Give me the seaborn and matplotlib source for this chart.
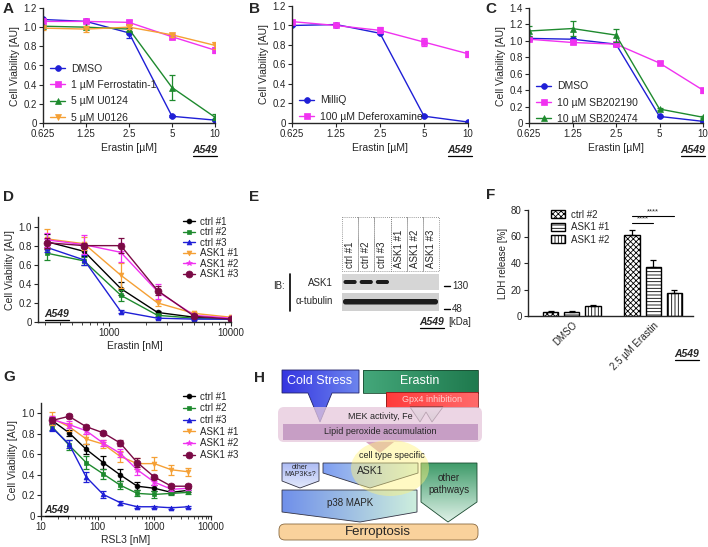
import numpy as np
import pandas as pd
import seaborn as sns
import matplotlib.pyplot as plt
from matplotlib.colors import to_rgb
from matplotlib.patches import Rectangle, Polygon, FancyBboxPatch, Ellipse, Patch
from matplotlib.ticker import NullLocator, LogLocator, NullFormatter

W, H = 708, 547

# ---- panel A / B / C : erastin dose response (uM) ----
erastin_um = [0.625, 1.25, 2.5, 5, 10]
erastin_ticks = ["0.625", "1.25", "2.5", "5", "10"]

a_names = ["DMSO", "1 µM Ferrostatin-1", "5 µM U0124", "5 µM U0126"]
a_dmso = [1.08, 1.06, 0.94, 0.07, 0.03]
a_fer1 = [1.06, 1.06, 1.05, 0.90, 0.76]
a_u0124 = [1.01, 1.00, 0.98, 0.37, 0.06]
a_u0126 = [0.99, 0.98, 1.00, 0.92, 0.81]
a_dmso_err = [0.01, 0.01, 0.05, 0.01, 0.01]
a_fer1_err = [0.02, 0.02, 0.02, 0.02, 0.03]
a_u0124_err = [0.01, 0.01, 0.02, 0.13, 0.03]
a_u0126_err = [0.02, 0.03, 0.02, 0.02, 0.04]

b_names = ["MilliQ", "100 µM Deferoxamine"]
b_milliq = [1.00, 1.01, 0.92, 0.07, 0.01]
b_dfo = [1.04, 1.00, 0.95, 0.83, 0.71]
b_milliq_err = [0.01, 0.01, 0.01, 0.01, 0.01]
b_dfo_err = [0.02, 0.01, 0.03, 0.04, 0.03]

c_names = ["DMSO", "10 µM SB202190", "10 µM SB202474"]
c_dmso = [1.03, 1.02, 0.96, 0.08, 0.02]
c_sb190 = [1.02, 0.98, 0.96, 0.73, 0.40]
c_sb474 = [1.12, 1.15, 1.07, 0.17, 0.07]
c_dmso_err = [0.02, 0.02, 0.02, 0.01, 0.01]
c_sb190_err = [0.02, 0.02, 0.02, 0.02, 0.03]
c_sb474_err = [0.06, 0.09, 0.08, 0.01, 0.01]

# ---- panel D : erastin (nM) in knockdown lines ----
kd_names = ["ctrl #1", "ctrl #2", "ctrl #3", "ASK1 #1", "ASK1 #2", "ASK1 #3"]
d_erastin_nm = [312.5, 625, 1250, 2500, 5000, 10000]
d_means = [
    [0.84, 0.74, 0.35, 0.10, 0.05, 0.03],
    [0.72, 0.64, 0.28, 0.07, 0.04, 0.03],
    [0.78, 0.65, 0.11, 0.04, 0.03, 0.03],
    [0.87, 0.82, 0.49, 0.20, 0.09, 0.05],
    [0.86, 0.81, 0.73, 0.32, 0.07, 0.04],
    [0.83, 0.80, 0.80, 0.33, 0.06, 0.03],
]
d_errs = [
    [0.08, 0.05, 0.07, 0.02, 0.01, 0.01],
    [0.07, 0.04, 0.06, 0.01, 0.01, 0.01],
    [0.05, 0.05, 0.02, 0.01, 0.01, 0.01],
    [0.10, 0.07, 0.13, 0.03, 0.01, 0.01],
    [0.07, 0.10, 0.10, 0.08, 0.01, 0.01],
    [0.05, 0.03, 0.08, 0.05, 0.01, 0.01],
]

# ---- panel F : LDH release ----
f_groups = ["DMSO", "2.5 µM Erastin"]
f_lines = ["ctrl #2", "ASK1 #1", "ASK1 #2"]
f_dmso = [3.2, 2.8, 7.2]
f_erastin = [61.5, 37.0, 17.0]
f_dmso_err = [0.7, 1.0, 1.2]
f_erastin_err = [3.2, 5.5, 2.5]

# ---- panel G : RSL3 (nM) ----
g_rsl3_nm = [15.625, 31.25, 62.5, 125, 250, 500, 1000, 2000, 4000]
g_means = [
    [0.93, 0.81, 0.65, 0.52, 0.40, 0.29, 0.27, 0.23, 0.25],
    [0.87, 0.69, 0.52, 0.41, 0.30, 0.22, 0.21, 0.22, 0.23],
    [0.86, 0.70, 0.38, 0.21, 0.13, 0.09, 0.09, 0.08, 0.09],
    [0.95, 0.87, 0.75, 0.70, 0.58, 0.51, 0.51, 0.45, 0.43],
    [0.94, 0.89, 0.83, 0.71, 0.61, 0.45, 0.33, 0.26, 0.27],
    [0.93, 0.97, 0.87, 0.81, 0.71, 0.52, 0.38, 0.29, 0.29],
]
g_errs = [
    [0.03, 0.03, 0.05, 0.06, 0.06, 0.04, 0.03, 0.02, 0.02],
    [0.03, 0.05, 0.06, 0.05, 0.04, 0.03, 0.03, 0.02, 0.02],
    [0.03, 0.04, 0.05, 0.03, 0.02, 0.01, 0.01, 0.01, 0.01],
    [0.06, 0.04, 0.05, 0.04, 0.05, 0.05, 0.06, 0.05, 0.04],
    [0.03, 0.03, 0.03, 0.03, 0.04, 0.05, 0.03, 0.02, 0.02],
    [0.02, 0.02, 0.02, 0.02, 0.03, 0.04, 0.02, 0.02, 0.02],
]

BLUE = "#1f1fd6"
MAGENTA = "#f032f0"
GREEN = "#1e8a2e"
ORANGE = "#f5a035"
kd_colors = ["#000000", GREEN, BLUE, ORANGE, MAGENTA, "#7a0a45"]
kd_markers = ["o", "s", "^", "v", "*", "o"]
kd_msize = [3.5, 3.5, 3.5, 3.5, 4.0, 5.0]

sns.set_style("ticks")
plt.rcParams["font.family"] = ["Liberation Sans", "DejaVu Sans"]
plt.rcParams["axes.linewidth"] = 1.0
plt.rcParams["hatch.linewidth"] = 0.6

fig = plt.figure(figsize=(W / 100, H / 100), dpi=100)


def px_axes(x0, y0, x1, y1):
    return fig.add_axes([x0 / W, 1 - y1 / H, (x1 - x0) / W, (y1 - y0) / H])


def curves(ax, x, names, means, errs, colors, markers, sizes, lw=1.0):
    for nm, m, e, c, mk, ms in zip(names, means, errs, colors, markers, sizes):
        sns.lineplot(x=x, y=m, color=c, marker=mk, markersize=ms, linewidth=lw,
                     markeredgecolor=c, markeredgewidth=0.5, label=nm, ax=ax)
        ax.errorbar(x, m, yerr=e, fmt="none", ecolor=c, elinewidth=0.9,
                    capsize=2.2, capthick=0.9)


def style_axes(ax, fs=7):
    sns.despine(ax=ax)
    ax.tick_params(labelsize=fs, length=3, width=0.8, pad=1.5)
    ax.tick_params(which="minor", length=1.8, width=0.6)


def erastin_axes(ax, ytop, ystep=0.2):
    ax.set_xscale("log", base=2)
    ax.set_xlim(0.625, 10)
    ax.set_xticks(erastin_um, erastin_ticks)
    ax.xaxis.set_minor_locator(NullLocator())
    ax.set_ylim(0, ytop)
    yt = np.round(np.arange(0, ytop + 1e-6, ystep), 1)
    ax.set_yticks(yt, ["0"] + [f"{v:.1f}" for v in yt[1:]])
    ax.set_xlabel("Erastin [µM]", fontsize=7.5, labelpad=3)
    ax.set_ylabel("Cell Viability [AU]", fontsize=7.5, labelpad=2)
    style_axes(ax)


leg_kw = dict(loc="lower left", frameon=False, fontsize=7.5, handlelength=1.4,
              handletextpad=0.6, labelspacing=0.6, borderpad=0.2)

# ---- A ----
axA = px_axes(43, 8, 215, 123)
curves(axA, erastin_um, a_names,
       [a_dmso, a_fer1, a_u0124, a_u0126],
       [a_dmso_err, a_fer1_err, a_u0124_err, a_u0126_err],
       [BLUE, MAGENTA, GREEN, ORANGE], ["o", "s", "^", "v"], [4.2, 4.2, 4.2, 4.2])
erastin_axes(axA, 1.2)
axA.legend(bbox_to_anchor=(0.0, -0.06), **leg_kw)

# ---- B ----
axB = px_axes(292, 6, 468, 123)
curves(axB, erastin_um, b_names, [b_milliq, b_dfo], [b_milliq_err, b_dfo_err],
       [BLUE, MAGENTA], ["o", "s"], [4.2, 4.2])
erastin_axes(axB, 1.2)
axB.legend(bbox_to_anchor=(0.0, -0.05), **leg_kw)

# ---- C ----
axC = px_axes(529, 8, 703, 123)
curves(axC, erastin_um, c_names, [c_dmso, c_sb190, c_sb474],
       [c_dmso_err, c_sb190_err, c_sb474_err],
       [BLUE, MAGENTA, GREEN], ["o", "s", "^"], [4.2, 4.2, 4.2])
erastin_axes(axC, 1.4)
axC.legend(bbox_to_anchor=(0.0, -0.07), **leg_kw)


def viability_log_axes(ax, xlim, major, majlab, xlabel):
    ax.set_xscale("log")
    ax.set_xlim(*xlim)
    ax.set_xticks(major, majlab)
    ax.xaxis.set_minor_locator(LogLocator(base=10, subs=np.arange(2, 10)))
    ax.xaxis.set_minor_formatter(NullFormatter())
    ax.set_ylim(0, 1.1)
    yt = [0, 0.2, 0.4, 0.6, 0.8, 1.0]
    ax.set_yticks(yt, ["0", "0.2", "0.4", "0.6", "0.8", "1.0"])
    ax.set_xlabel(xlabel, fontsize=7.5, labelpad=2)
    ax.set_ylabel("Cell Viability [AU]", fontsize=7.5, labelpad=2)
    style_axes(ax)


# ---- D ----
axD = px_axes(38, 217, 231, 322)
curves(axD, d_erastin_nm, kd_names, d_means, d_errs, kd_colors, kd_markers, kd_msize)
viability_log_axes(axD, (262, 10000), [1000, 10000], ["1000", "10000"], "Erastin [nM]")
axD.legend(loc="upper left", bbox_to_anchor=(176 / W, 1 - 210 / H),
           bbox_transform=fig.transFigure, frameon=False, fontsize=7,
           handlelength=1.3, handletextpad=0.5, labelspacing=0.05, borderpad=0.2)

# ---- G ----
axG = px_axes(41, 403, 211, 516)
curves(axG, g_rsl3_nm, kd_names, g_means, g_errs, kd_colors, kd_markers, kd_msize)
viability_log_axes(axG, (10, 10000), [10, 100, 1000, 10000],
                   ["10", "100", "1000", "10000"], "RSL3 [nM]")
axG.legend(loc="upper left", bbox_to_anchor=(176 / W, 1 - 385 / H),
           bbox_transform=fig.transFigure, frameon=False, fontsize=7,
           handlelength=1.3, handletextpad=0.5, labelspacing=0.17, borderpad=0.2)

# ---- F ----
axF = px_axes(528, 210, 693, 316)
fdf = pd.DataFrame({
    "group": [g for g in f_groups for _ in f_lines],
    "line": f_lines * len(f_groups),
    "ldh": f_dmso + f_erastin,
})
sns.barplot(data=fdf, x="group", y="ldh", hue="line", order=f_groups, hue_order=f_lines,
            errorbar=None, width=0.78, gap=0.28, ax=axF, linewidth=1.0, edgecolor="black",
            legend=False)
hatches = ["xxxxxx", "-----", "|||||"]
f_errs = [[f_dmso_err[i], f_erastin_err[i]] for i in range(len(f_lines))]
bar_conts = list(axF.containers)
centers = {}
for i, cont in enumerate(bar_conts):
    xs, ys = [], []
    for p in cont:
        p.set_facecolor("white")
        p.set_edgecolor("black")
        p.set_hatch(hatches[i])
        xs.append(p.get_x() + p.get_width() / 2)
        ys.append(p.get_height())
    centers[i] = xs
    axF.errorbar(xs, ys, yerr=[np.zeros(len(ys)), f_errs[i]], fmt="none",
                 ecolor="black", elinewidth=0.9, capsize=2.5, capthick=0.9)
axF.set_xlim(-0.54, 1.49)
axF.set_ylim(0, 80)
axF.set_yticks([0, 20, 40, 60, 80])
axF.set_xlabel("")
axF.set_ylabel("LDH release [%]", fontsize=7, labelpad=2)
axF.set_xticks([0, 1], f_groups, rotation=45, ha="right", rotation_mode="anchor")
style_axes(axF)
axF.tick_params(axis="x", length=0, pad=3)
for j, y in [(1, 70), (2, 75.5)]:
    x0, x1 = centers[0][1], centers[j][1]
    axF.plot([x0, x1], [y, y], color="black", lw=0.8)
    axF.text((x0 + x1) / 2, y + 0.6, "****", ha="center", va="bottom", fontsize=5.5)
f_handles = [Patch(facecolor="white", edgecolor="black", hatch=h, label=nm)
             for h, nm in zip(hatches, f_lines)]
axF.legend(handles=f_handles, loc="upper left", bbox_to_anchor=(544 / W, 1 - 203 / H),
           bbox_transform=fig.transFigure, frameon=False, fontsize=7,
           handlelength=1.5, handleheight=0.9, handletextpad=0.6, labelspacing=0.25,
           borderpad=0.2)

# ---- overlay in pixel coordinates: letters, blot (E), scheme (H) ----
ov = fig.add_axes([0, 0, 1, 1])
ov.patch.set_alpha(0)
ov.axis("off")

for lab, x, y in [("A", 3, 2), ("B", 249, 2), ("C", 485, 2), ("D", 3, 190),
                  ("E", 249, 190), ("F", 486, 188), ("G", 3, 370), ("H", 254, 371)]:
    ov.text(x, y, lab, fontsize=11, fontweight="bold", va="top", ha="left")

a549_texts = []
for x, y in [(205, 150), (460, 150), (693, 150), (57, 314), (57, 510), (432, 322), (687, 354)]:
    a549_texts.append(ov.text(x, y, "A549", fontsize=7.5, fontweight="bold",
                              style="italic", ha="center", va="center"))

# E: western blot
lane_x0, lane_w = 342, 97 / 6
for i, nm in enumerate(kd_names):
    xl = lane_x0 + i * lane_w
    ov.add_patch(Rectangle((xl, 217), lane_w, 54, fill=False, ls=(0, (1, 1.5)),
                           lw=0.6, edgecolor="#777777"))
    ov.text(xl + lane_w / 2, 268, nm, rotation=90, ha="center", va="bottom", fontsize=7)
ov.add_patch(Rectangle((lane_x0, 274), 97, 16, facecolor="#d6d6d6", edgecolor="none"))
ov.add_patch(Rectangle((lane_x0, 293), 97, 18, facecolor="#d0d0d0", edgecolor="none"))
for i in range(3):
    xl = lane_x0 + i * lane_w
    ov.add_patch(FancyBboxPatch((xl + 1.5, 280), lane_w - 3, 4,
                                boxstyle="round,pad=0,rounding_size=2",
                                facecolor="#1c1c1c", edgecolor="none"))
ov.add_patch(FancyBboxPatch((lane_x0 + 1, 299), 95, 5.5,
                            boxstyle="round,pad=0,rounding_size=2.5",
                            facecolor="#1c1c1c", edgecolor="none"))
ov.plot([290, 290], [274, 311], color="black", lw=1.2)
ov.text(279, 286, "IB:", fontsize=7, ha="center", va="center")
ov.text(333, 283, "ASK1", fontsize=7, ha="right", va="center")
ov.text(333, 301, "α-tubulin", fontsize=7, ha="right", va="center")
for y, kd in [(286, "130"), (309, "48")]:
    ov.plot([444, 450], [y, y], color="black", lw=1.0)
    ov.text(452, y, kd, fontsize=7, ha="left", va="center")
ov.text(448, 322, "[kDa]", fontsize=7, ha="left", va="center")


# H: scheme
def grad_fill(verts, c0, c1, horizontal=True, edge="#445", z=2, alpha=1.0, lw=0.6):
    poly = Polygon(verts, closed=True, facecolor="none", edgecolor=edge, lw=lw, zorder=z + 0.1)
    ov.add_patch(poly)
    xs, ys = zip(*verts)
    t = np.linspace(0, 1, 64)[:, None]
    cols = np.array(to_rgb(c0))[None, :] * (1 - t) + np.array(to_rgb(c1))[None, :] * t
    img = cols[None, :, :] if horizontal else cols[:, None, :]
    im = ov.imshow(img, extent=(min(xs), max(xs), max(ys), min(ys)), origin="upper",
                   aspect="auto", zorder=z, alpha=alpha, interpolation="bilinear")
    im.set_clip_path(poly)
    return poly


grad_fill([(282, 370), (359, 370), (359, 393), (332, 393), (320, 422), (308, 393), (282, 393)],
          "#3535e0", "#6c84ee", edge="#22226a")
grad_fill([(363, 370), (478, 370), (478, 393), (363, 393)], "#44a77a", "#1f7a4e",
          edge="#1a4a30")
grad_fill([(410, 407), (443, 407), (432, 422), (426, 412), (420, 422)], "#f4fbf6", "#bfe3cc",
          horizontal=False, edge="#333", z=2.2)
grad_fill([(386, 392), (478, 392), (478, 407), (386, 407)], "#ff3b3b", "#ff6a6a",
          edge="#8a1a1a", z=2.3)
ov.text(320, 381.5, "Cold Stress", color="white", fontsize=9, ha="center", va="center",
        zorder=3)
ov.text(420, 381.5, "Erastin", color="white", fontsize=9, ha="center", va="center", zorder=3)
ov.text(432, 400, "Gpx4 inhibition", color="#ffd0d0", fontsize=6.5, ha="center",
        va="center", zorder=3)

ov.add_patch(FancyBboxPatch((278, 407), 204, 35, boxstyle="round,pad=0,rounding_size=6",
                            facecolor="#e6c8dc", edgecolor="none", alpha=0.75, zorder=4))
ov.add_patch(Rectangle((283, 424), 195, 16, facecolor="#c398c2", edgecolor="none",
                       alpha=0.9, zorder=4.1))
ov.text(380, 416.5, "MEK activity, Fe", fontsize=6.5, ha="center", va="center", zorder=5)
ov.text(380, 432, "Lipid peroxide accumulation", fontsize=6.5, ha="center", va="center",
        zorder=5)
ov.add_patch(Polygon([(366, 442), (394, 442), (380, 453)], closed=True,
                     facecolor="#d6a4c4", edgecolor="none", zorder=4))

grad_fill([(282, 463), (319, 463), (319, 481), (300, 488), (282, 481)], "#aebcf5", "#e2e8fb",
          horizontal=False, edge="#334", z=5)
grad_fill([(323, 463), (418, 463), (418, 473), (370, 488), (323, 473)], "#7e9ef2", "#d8f0e2",
          edge="#334", z=5)
grad_fill([(421, 463), (477, 463), (477, 502), (448, 522), (421, 502)], "#3f9b6a", "#e0f2e8",
          horizontal=False, edge="#1a4a30", z=5)
grad_fill([(282, 490), (417, 490), (417, 512), (360, 522), (282, 512)], "#7090ea", "#cdeedd",
          edge="#334", z=5)
ov.add_patch(Ellipse((390, 468), 78, 56, facecolor="#fff27a", edgecolor="none",
                     alpha=0.45, zorder=5.5))
ov.text(392, 456, "cell type specific", fontsize=6.5, ha="center", va="center", zorder=6)
ov.text(300, 471, "other\nMAP3Ks?", fontsize=5, ha="center", va="center", zorder=6,
        linespacing=1.0)
ov.text(370, 471, "ASK1", fontsize=7.5, ha="center", va="center", zorder=6)
ov.text(449, 484, "other\npathways", fontsize=7, ha="center", va="center", zorder=6)
ov.text(350, 503, "p38 MAPK", fontsize=7, ha="center", va="center", zorder=6)
ov.add_patch(FancyBboxPatch((279, 524), 199, 16, boxstyle="round,pad=0,rounding_size=6",
                            facecolor="#f9d29c", edgecolor="#8a6a40", lw=0.6, zorder=5))
ov.text(378, 532, "Ferroptosis", fontsize=9.5, ha="center", va="center", zorder=6)

ov.set_xlim(0, W)
ov.set_ylim(H, 0)

# underline the A549 labels
fig.canvas.draw()
for t in a549_texts:
    bb = t.get_window_extent()
    yb = H - bb.y0 + 0.5
    ov.plot([bb.x0, bb.x1], [yb, yb], color="black", lw=0.9)
ov.set_xlim(0, W)
ov.set_ylim(H, 0)

fig.savefig("out.png", dpi=100)
